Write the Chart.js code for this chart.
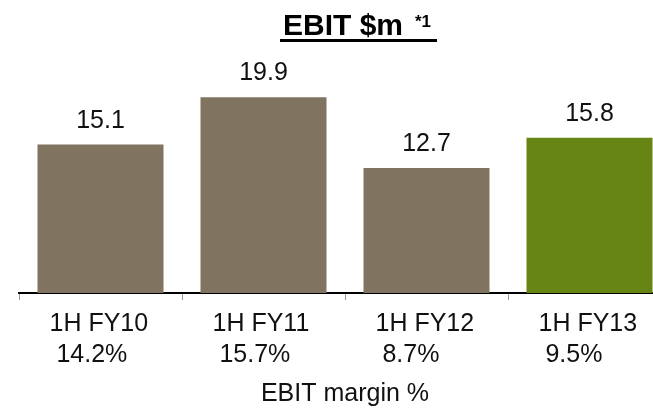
<!DOCTYPE html>
<html>
<head>
<meta charset="utf-8">
<script src="https://cdn.jsdelivr.net/npm/chart.js@4/dist/chart.umd.min.js"></script>
<style>
  html, body { margin: 0; padding: 0; background: #fff; overflow: hidden; }
  canvas { display: block; }
</style>
</head>
<body>
<!-- canvas is a bit wider than the window: the last category runs off the right edge -->
<canvas id="ebitChart" width="671" height="411"></canvas>
<script>
var categories = ["1H FY10", "1H FY11", "1H FY12", "1H FY13"];
var margins = ["14.2%", "15.7%", "8.7%", "9.5%"];
var ebit = [15.1, 19.9, 12.7, 15.8];
var barColors = ["#807360", "#807360", "#807360", "#678514"];

var fontFamily = "'Liberation Sans', Arial, sans-serif";

// left-aligned two line labels, margin line indented by one space
var labels = categories.map(function (c, i) {
  return [c, " " + margins[i]];
});

var valueLabels = {
  id: "valueLabels",
  afterDatasetsDraw: function (chart) {
    var ctx = chart.ctx;
    var meta = chart.getDatasetMeta(0);
    ctx.save();
    ctx.font = "25px " + fontFamily;
    ctx.fillStyle = "#111";
    ctx.textAlign = "center";
    ctx.textBaseline = "alphabetic";
    meta.data.forEach(function (bar, i) {
      ctx.fillText(ebit[i].toFixed(1), bar.x, bar.y - 17);
    });
    ctx.restore();
  }
};

var titlePlugin = {
  id: "titlePlugin",
  afterDraw: function (chart) {
    var ctx = chart.ctx;
    ctx.save();
    ctx.fillStyle = "#000";
    ctx.textBaseline = "alphabetic";
    ctx.textAlign = "left";
    ctx.font = "bold 30px " + fontFamily;
    ctx.fillText("EBIT $m", 283, 35);
    ctx.font = "bold 17px " + fontFamily;
    ctx.fillText("*1", 415, 27);
    ctx.fillRect(280, 39, 157, 3);
    ctx.restore();
  }
};

var ctx = document.getElementById("ebitChart").getContext("2d");
var ebitChart = new Chart(ctx, {
  type: "bar",
  data: {
    labels: labels,
    datasets: [
      {
        label: "EBIT $m",
        data: ebit,
        backgroundColor: barColors,
        borderWidth: 0,
        categoryPercentage: 1,
        barPercentage: 0.773
      }
    ]
  },
  options: {
    responsive: false,
    animation: false,
    layout: {
      padding: { top: 57, left: 19, right: 0, bottom: 2 }
    },
    plugins: {
      legend: { display: false },
      tooltip: { enabled: false }
    },
    scales: {
      x: {
        afterFit: function (scale) {
          scale.paddingLeft = 0;
          scale.paddingRight = 0;
        },
        grid: {
          display: true,
          drawOnChartArea: false,
          drawTicks: true,
          tickLength: 7,
          color: "#999"
        },
        border: { display: true, color: "#000", width: 2 },
        ticks: {
          color: "#111",
          font: { family: fontFamily, size: 25, lineHeight: 1.26 },
          padding: 8,
          align: "start",
          labelOffset: -51,
          maxRotation: 0,
          autoSkip: false
        },
        title: {
          display: true,
          text: "EBIT margin %",
          color: "#111",
          font: { family: fontFamily, size: 25, lineHeight: 1.2 },
          padding: { top: 0, bottom: 0 }
        }
      },
      y: {
        display: false,
        min: 0,
        max: 24
      }
    }
  },
  plugins: [valueLabels, titlePlugin]
});
</script>
</body>
</html>
